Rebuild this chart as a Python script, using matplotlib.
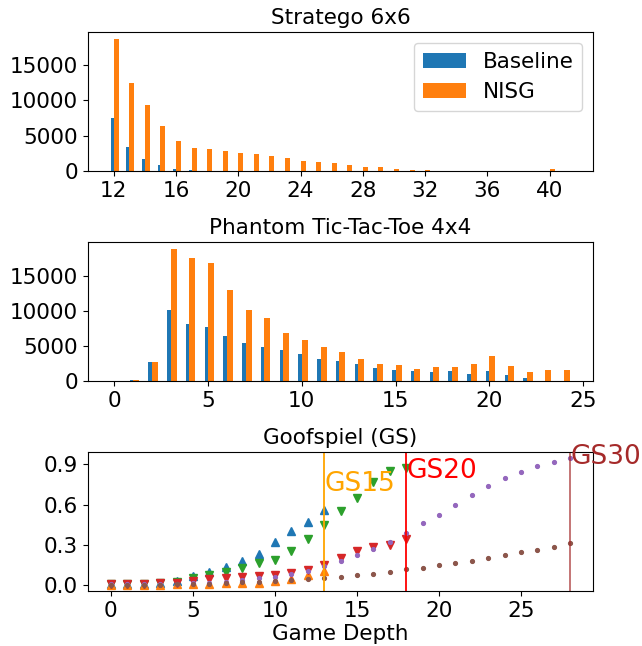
import matplotlib
matplotlib.use("Agg")
import matplotlib.pyplot as plt
import matplotlib.ticker as ticker

FONT_SIZE = 15.5

# Stratego 6x6 depth histogram
stratego_depths = list(range(12, 42))
stratego_baseline = [7550, 3400, 1730, 890, 330, 180, 40, 30, 20, 20,
                     15, 15, 10, 10, 10, 10, 10, 10, 10, 10,
                     10, 10, 10, 10, 10, 10, 10, 10, 10, 10]
stratego_nisg = [18600, 12450, 9300, 6350, 4250, 3250, 3120, 2850, 2560, 2420,
                 2140, 1860, 1440, 1300, 1160, 880, 600, 600, 330, 180,
                 150, 40, 30, 30, 20, 20, 20, 20, 300, 40]

# Phantom Tic-Tac-Toe 4x4 depth histogram
pttt_depths = list(range(0, 25))
pttt_baseline = [0, 180, 2760, 10250, 8150, 7720, 6440, 5420, 4880, 4450,
                 3890, 3170, 2860, 2450, 1890, 1610, 1460, 1330, 1460, 1020,
                 1460, 900, 470, 0, 0]
pttt_nisg = [0, 180, 2760, 18950, 17700, 16950, 13100, 10250, 9000, 6870,
             5870, 4880, 4160, 3170, 2450, 2320, 1740, 2050, 2050, 2450,
             3580, 2180, 1330, 1610, 1610]

# Goofspiel values per game depth
gs15_blue = [0.005, 0.005, 0.005, 0.01, 0.03, 0.065, 0.098, 0.13, 0.175, 0.23,
             0.32, 0.40, 0.47, 0.556]
gs15_orange = [0.0, 0.0, 0.0, 0.0, 0.003, 0.005, 0.008, 0.012, 0.015, 0.015,
               0.03, 0.045, 0.075, 0.1]
gs20_green = [0.005, 0.005, 0.005, 0.015, 0.02, 0.05, 0.075, 0.095, 0.125, 0.16,
              0.185, 0.25, 0.34, 0.45, 0.55, 0.65, 0.77, 0.85, 0.875]
gs20_red = [0.005, 0.005, 0.005, 0.01, 0.015, 0.03, 0.04, 0.05, 0.06, 0.065,
            0.075, 0.088, 0.11, 0.15, 0.2, 0.25, 0.28, 0.30, 0.34]
gs30_purple = [0.003, 0.003, 0.003, 0.005, 0.007, 0.01, 0.015, 0.02, 0.035, 0.05,
               0.06, 0.077, 0.10, 0.14, 0.18, 0.225, 0.27, 0.32, 0.39, 0.46,
               0.525, 0.595, 0.67, 0.74, 0.795, 0.845, 0.89, 0.92, 0.945]
gs30_brown = [0.0, 0.0, 0.0, 0.002, 0.003, 0.005, 0.008, 0.012, 0.018, 0.022,
              0.028, 0.035, 0.045, 0.05, 0.06, 0.07, 0.083, 0.098, 0.115, 0.128,
              0.145, 0.165, 0.18, 0.20, 0.22, 0.245, 0.26, 0.285, 0.31]

# game name, depth where the game ends, label height, colour
gs_games = [("GS15", 13, 0.7, "orange"), ("GS20", 18, 0.8, "red"), ("GS30", 28, 0.9, "brown")]


def draw_bars(ax, depths, baseline, nisg, title):
    ax.bar(depths, baseline, width=-0.18, align="edge", label="Baseline")
    ax.bar(depths, nisg, width=0.32, align="edge", label="NISG")
    ax.set_title(title, fontsize=FONT_SIZE)
    ax.yaxis.set_major_locator(ticker.MultipleLocator(5000))
    ax.tick_params(labelsize=FONT_SIZE)


def main():
    fig, (ax1, ax2, ax3) = plt.subplots(3, 1, figsize=(6.42, 6.46), dpi=100)
    fig.subplots_adjust(left=0.137, right=0.924, top=0.950, bottom=0.085, hspace=0.51)

    draw_bars(ax1, stratego_depths, stratego_baseline, stratego_nisg, "Stratego 6x6")
    ax1.set_xticks(range(12, 41, 4))
    ax1.legend(fontsize=FONT_SIZE, loc="upper right")

    draw_bars(ax2, pttt_depths, pttt_baseline, pttt_nisg, "Phantom Tic-Tac-Toe 4x4")
    ax2.set_xticks(range(0, 26, 5))

    ax3.plot(range(len(gs15_blue)), gs15_blue, "^", ms=5.5, color="C0")
    ax3.plot(range(len(gs15_orange)), gs15_orange, "^", ms=5.5, color="C1")
    ax3.plot(range(len(gs20_green)), gs20_green, "v", ms=5.5, color="C2")
    ax3.plot(range(len(gs20_red)), gs20_red, "v", ms=5.5, color="C3")
    ax3.plot(range(len(gs30_purple)), gs30_purple, ".", ms=5.5, color="C4")
    ax3.plot(range(len(gs30_brown)), gs30_brown, ".", ms=5.5, color="C5")
    for name, depth, y, col in gs_games:
        ax3.axvline(depth, color=col, alpha=0.7 if col == "brown" else 1.0, lw=1.3)
        ax3.text(depth, y, name, color=col, fontsize=19)
    ax3.set_yticks([0.0, 0.3, 0.6, 0.9])
    ax3.set_xticks(range(0, 30, 5))
    ax3.set_title("Goofspiel (GS)", fontsize=FONT_SIZE)
    ax3.set_xlabel("Game Depth", fontsize=FONT_SIZE, labelpad=2)
    ax3.tick_params(labelsize=FONT_SIZE)

    fig.savefig("out.png", dpi=100)


if __name__ == "__main__":
    main()
